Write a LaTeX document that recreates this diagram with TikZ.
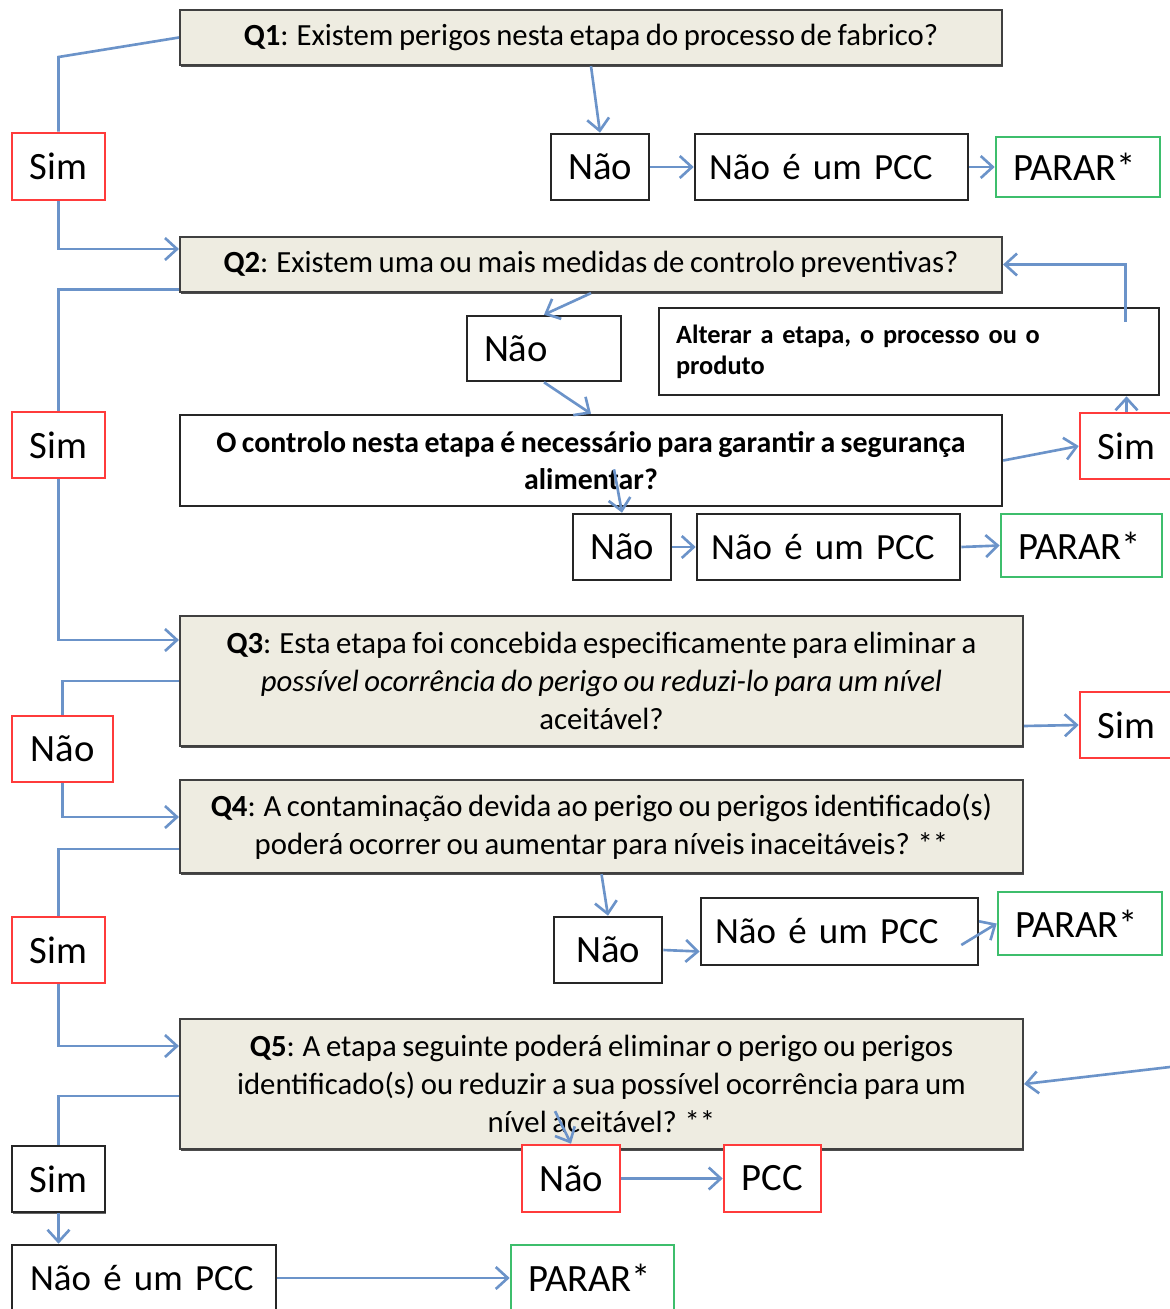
\documentclass[tikz,border=0pt]{standalone}
\usepackage{fontspec}
\setmainfont{Carlito}[WordSpace=0.8]
\usetikzlibrary{arrows.meta,shadows}
\definecolor{qfill}{HTML}{EEECE1}
\definecolor{lnblue}{HTML}{6B93C9}
\definecolor{boxred}{HTML}{FF3B3B}
\definecolor{boxgreen}{HTML}{3DBE6C}
\begin{document}
\begin{tikzpicture}[
	x=0.02cm, y=-0.02cm,
	>={Straight Barb[length=2.4mm,width=4.4mm]},
	conn/.style={ lnblue, line width=1.5pt },
	qbox/.style={ draw=black!75, line width=1.3pt, fill=qfill, align=center, inner sep=0pt,
		font=\fontsize{17.5}{21.5}\selectfont,
		drop shadow={shadow xshift=0.6pt,shadow yshift=-1.4pt,fill=black!70,opacity=1} },
	wbox/.style={ draw=black!85, line width=1.5pt, fill=white, inner sep=0pt,
		font=\fontsize{22}{26}\selectfont },
	rbox/.style={ wbox, draw=boxred },
	gbox/.style={ wbox, draw=boxgreen },
	lbox/.style={ wbox, align=left, inner xsep=0.28cm, font=\fontsize{21}{25}\selectfont }
]

\useasboundingbox (0,0) rectangle (1170,1309);

\node at (591,37.5) (q1) [qbox,minimum width=16.44cm,minimum height=1.1cm] {\textbf{Q1}: Existem perigos nesta etapa do processo de fabrico?};
\node at (600,167) (nao1) [wbox,minimum width=1.96cm,minimum height=1.32cm] {Não};
\node at (831.5,167) (npcc1) [lbox,text width=4.9cm,minimum height=1.32cm] {Não é um PCC};
\node at (1078,167) (parar1) [gbox,align=left,inner xsep=0.34cm,text width=2.6cm,minimum height=1.2cm] {PARAR*};
\node at (58.5,166.5) (sim1) [rbox,minimum width=1.86cm,minimum height=1.34cm] {Sim};

\node at (591,264.5) (q2) [qbox,minimum width=16.44cm,minimum height=1.1cm] {\textbf{Q2}: Existem uma ou mais medidas de controlo preventivas?};
\node at (544,348.5) (nao2) [lbox,inner xsep=0.34cm,text width=2.4cm,minimum height=1.3cm,font=\fontsize{22}{26}\selectfont] {Não};
\node at (909,351.5) (alt) [wbox,align=left,inner xsep=0.34cm,text width=9.32cm,minimum height=1.74cm,
	font=\fontsize{15}{17.5}\selectfont\bfseries] {Alterar a etapa, o processo ou o\\produto};
\node at (58.5,445) (sim2) [rbox,minimum width=1.86cm,minimum height=1.32cm] {Sim};
\node at (591,460.5) (ctrl) [wbox,align=center,minimum width=16.44cm,minimum height=1.82cm,
	font=\fontsize{17}{21}\selectfont\bfseries] {O controlo nesta etapa é necessário para garantir a segurança\\alimentar?};
\node at (1126.5,446) (sim3) [rbox,minimum width=1.86cm,minimum height=1.32cm] {Sim};
\node at (622,547) (nao3) [wbox,minimum width=1.96cm,minimum height=1.32cm] {Não};
\node at (828.5,547) (npcc2) [lbox,text width=4.7cm,minimum height=1.32cm] {Não é um PCC};
\node at (1081.5,545.5) (parar2) [gbox,align=left,inner xsep=0.34cm,text width=2.54cm,minimum height=1.26cm] {PARAR*};

\node at (601.5,681) (q3) [qbox,minimum width=16.86cm,minimum height=2.6cm] {\textbf{Q3}: Esta etapa foi concebida especificamente para eliminar a\\\textit{possível ocorrência do perigo ou reduzi-lo para um nível}\\aceitável?};
\node at (62.5,749) (nao4) [rbox,minimum width=2.02cm,minimum height=1.32cm] {Não};
\node at (1126.5,725) (sim4) [rbox,minimum width=1.86cm,minimum height=1.32cm] {Sim};

\node at (601.5,826.5) (q4) [qbox,minimum width=16.86cm,minimum height=1.86cm] {\textbf{Q4}: A contaminação devida ao perigo ou perigos identificado(s)\\poderá ocorrer ou aumentar para níveis inaceitáveis? **};
\node at (58.5,950) (sim5) [rbox,minimum width=1.86cm,minimum height=1.32cm] {Sim};
\node at (608,950) (nao5) [wbox,minimum width=2.16cm,minimum height=1.32cm] {Não};
\node at (839.5,931.5) (npcc3) [lbox,text width=4.98cm,minimum height=1.34cm] {Não é um PCC};
\node at (1080,923.5) (parar3) [gbox,align=left,inner xsep=0.34cm,text width=2.6cm,minimum height=1.26cm] {PARAR*};

\node at (601.5,1084) (q5) [qbox,minimum width=16.86cm,minimum height=2.6cm] {\textbf{Q5}: A etapa seguinte poderá eliminar o perigo ou perigos\\identificado(s) ou reduzir a sua possível ocorrência para um\\nível aceitável? **};
\node at (58.5,1179) (sim6) [wbox,minimum width=1.86cm,minimum height=1.32cm,
	drop shadow={shadow xshift=0.6pt,shadow yshift=-1.2pt,fill=black!60,opacity=1}] {Sim};
\node at (571,1178.5) (nao6) [rbox,minimum width=1.96cm,minimum height=1.34cm] {Não};
\node at (772.5,1178.5) (pcc) [rbox,minimum width=1.94cm,minimum height=1.34cm] {PCC};
\node at (144,1278) (npcc4) [lbox,inner xsep=0.36cm,text width=4.56cm,minimum height=1.32cm] {Não é um PCC};
\node at (592.5,1278) (parar4) [gbox,align=left,inner xsep=0.34cm,text width=2.58cm,minimum height=1.32cm] {PARAR*};

\draw[conn] (q1.west) -- (58.5,57) -- (sim1.north);
\draw[conn,->] (sim1.south) |- ([yshift=0.31cm]q2.west);
\draw[conn,->] (q1.south) -- (nao1.north);
\draw[conn,->] (nao1.east) -- (npcc1.west);
\draw[conn,->] (npcc1.east) -- (parar1.west);

\draw[conn] ([yshift=-0.5cm]q2.west) -| (sim2.north);
\draw[conn,->] (sim2.south) |- ([yshift=0.82cm]q3.west);
\draw[conn,->] (q2.south) -- (nao2.north);
\draw[conn,->] (nao2.south) -- (ctrl.north);
\draw[conn,->] (ctrl.east) -- (sim3.west);
\draw[conn,->] (sim3.north) -- (sim3.north |- alt.south);
\draw[conn,->] ([xshift=-0.7cm,yshift=-0.3cm]alt.north east) |- (q2.east);
\draw[conn,->] ([xshift=0.46cm,yshift=0.76cm]ctrl.south) -- (nao3.north);
\draw[conn,->] (nao3.east) -- (npcc2.west);
\draw[conn,->] (npcc2.east) -- (parar2.west);

\draw[conn] (q3.west) -| (nao4.north);
\draw[conn,->] (nao4.south) |- ([yshift=0.19cm]q4.west);
\draw[conn,->] ([yshift=-0.9cm]q3.east) -- (sim4.west);

\draw[conn] ([yshift=-0.45cm]q4.west) -| (sim5.north);
\draw[conn,->] (sim5.south) |- ([yshift=0.76cm]q5.west);
\draw[conn,->] (q4.south) -- (nao5.north);
\draw[conn,->] (nao5.east) -- ([yshift=-0.4cm]npcc3.west);
\draw[conn,->] ([xshift=-0.36cm,yshift=-0.27cm]npcc3.east) -- (parar3.west);

\coordinate (fromright) at (1170,1067);
\draw[conn,->] (fromright) -- (q5.east);
\draw[conn] ([yshift=-0.24cm]q5.west) -| (sim6.north);
\draw[conn,->] (sim6.south) -- (sim6.south |- npcc4.north);
\draw[conn,->] (npcc4.east) -- (parar4.west);
\draw[conn,->] ([xshift=-0.93cm,yshift=0.78cm]q5.south) -- (nao6.north);
\draw[conn,->] (nao6.east) -- (pcc.west);

\end{tikzpicture}
\end{document}
